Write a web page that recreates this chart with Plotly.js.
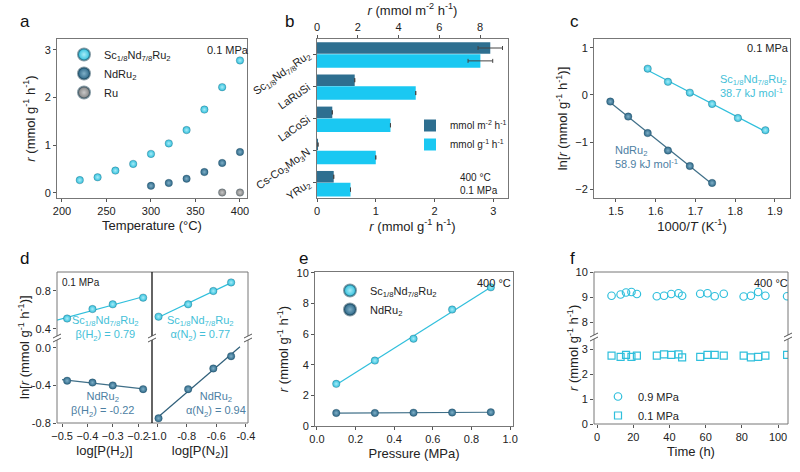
<!DOCTYPE html>
<html><head><meta charset="utf-8">
<script src="https://cdn.plot.ly/plotly-3.0.1.min.js"></script>
<style>html,body{margin:0;padding:0;background:#fff}</style>
</head><body><div id="g" style="width:800px;height:472px"></div>
<script>
// ---- data ----
const SC = 'Sc<sub>1/8</sub>Nd<sub>7/8</sub>Ru<sub>2</sub>';
const ND = 'NdRu<sub>2</sub>';
// a
const aTempSc = [220,240,260,280,300,320,340,360,380,400];
const aRateSc = [0.27,0.33,0.47,0.61,0.82,1.04,1.32,1.75,2.22,2.78];
const aTempNd = [300,320,340,360,380,400];
const aRateNd = [0.15,0.21,0.30,0.44,0.63,0.86];
const aTempRu = [380,400];
const aRateRu = [0.01,0.01];
// b
const bCats = [SC,'LaRuSi','LaCoSi','Cs-Co<sub>3</sub>Mo<sub>3</sub>N','YRu<sub>2</sub>'];
const bArea = [8.5,1.85,0.75,0.05,0.82];
const bAreaErr = [0.6,null,null,null,null];
const bMass = [2.78,1.68,1.25,1.0,0.57];
const bMassErr = [0.21,null,null,null,null];
// c
const cXSc = [1.580,1.631,1.686,1.742,1.807,1.876];
const cYSc = [0.56,0.28,0.05,-0.19,-0.49,-0.75];
const cXNd = [1.486,1.531,1.580,1.631,1.686,1.742];
const cYNd = [-0.14,-0.46,-0.81,-1.18,-1.51,-1.87];
// d
const dH2 = [-0.48,-0.38,-0.30,-0.18];
const dH2Sc = [0.51,0.61,0.66,0.73];
const dH2Nd = [-0.35,-0.37,-0.40,-0.44];
const dN2 = [-0.99,-0.79,-0.62,-0.50];
const dN2Sc = [0.53,0.66,0.80,0.89];
const dN2Nd = [-0.75,-0.44,-0.22,-0.09];
// e
const ePress = [0.1,0.3,0.5,0.7,0.9];
const eSc = [2.75,4.27,5.7,7.6,9.05];
const eNd = [0.85,0.85,0.87,0.88,0.9];
// f
const fTime = [8,13,16,19,22,33,37,41,45,47,57,61,65,70,81,85,89,93,105];
const f09 = [9.05,9.1,9.18,9.2,9.12,9.03,9.05,9.12,9.15,9.05,9.13,9.15,9.03,9.13,9.02,9.05,9.2,9.05,9.03];
const f01 = [2.75,2.7,2.78,2.7,2.75,2.75,2.8,2.78,2.8,2.68,2.7,2.78,2.78,2.75,2.75,2.68,2.7,2.75,2.78];

// ---- style ----
const CL = '#2fbfdc', CD = '#2c6686', CG = '#808080';
const TL = '#45bfd8', TD = '#4d80a3';
const FONT = 'Liberation Sans, Arial, sans-serif';
const P = (px)=>px/800, Q = (py)=>1-py/472;

function fit(xs, ys, x0, x1){
  const n=xs.length; let sx=0,sy=0,sxx=0,sxy=0;
  for(let i=0;i<n;i++){sx+=xs[i];sy+=ys[i];sxx+=xs[i]*xs[i];sxy+=xs[i]*ys[i];}
  const b=(n*sxy-sx*sy)/(n*sxx-sx*sx), a=(sy-b*sx)/n;
  return {x:[x0,x1], y:[a+b*x0,a+b*x1]};
}
const GL = {'#2fbfdc':'#a8ecf8','#2c6686':'#7fb0c8','#808080':'#c8c8c8'};
function sph(c){ return {color:c, size:7.5, line:{color:'rgba(20,60,80,0.5)',width:0.5}, gradient:{type:'radial',color:GL[c]}}; }
function pts(x,y,xa,ya,c,name,leg,show){
  return {type:'scatter',mode:'markers',x:x,y:y,xaxis:xa,yaxis:ya,marker:sph(c),name:name,legend:leg||'legend',showlegend:!!show};
}
function ln(f,xa,ya,c){ return {type:'scatter',mode:'lines',x:f.x,y:f.y,xaxis:xa,yaxis:ya,line:{color:c,width:1.2},showlegend:false,hoverinfo:'skip'}; }

const traces = [];
// a
traces.push(pts(aTempSc,aRateSc,'x','y',CL,SC,'legend',true));
traces.push(pts(aTempNd,aRateNd,'x','y',CD,ND,'legend',true));
traces.push(pts(aTempRu,aRateRu,'x','y',CG,'Ru','legend',true));
// b
traces.push({type:'bar',orientation:'h',y:bCats,x:bArea,xaxis:'x3',yaxis:'y2',offset:-0.37,width:0.36,
  marker:{color:'#2e6f90'},name:'mmol m<sup>-2</sup> h<sup>-1</sup>',legend:'legend2',
  error_x:{type:'data',array:bAreaErr,color:'#444',thickness:1,width:2}});
traces.push({type:'bar',orientation:'h',y:bCats,x:bMass,xaxis:'x2',yaxis:'y2',offset:0.0,width:0.42,
  marker:{color:'#1ac8f2'},name:'mmol g<sup>-1</sup> h<sup>-1</sup>',legend:'legend2',
  error_x:{type:'data',array:bMassErr,color:'#444',thickness:1,width:2}});
// c
traces.push(ln(fit(cXSc,cYSc,1.58,1.876),'x4','y4',CL));
traces.push(ln(fit(cXNd,cYNd,1.486,1.742),'x4','y4','#3f6f88'));
traces.push(pts(cXSc,cYSc,'x4','y4',CL));
traces.push(pts(cXNd,cYNd,'x4','y4',CD));
// d
traces.push(ln(fit(dH2,dH2Sc,-0.52,-0.18),'x5','y5',CL));
traces.push(pts(dH2,dH2Sc,'x5','y5',CL));
traces.push(ln(fit(dH2,dH2Nd,-0.5,-0.18),'x6','y6','#3f6f88'));
traces.push(pts(dH2,dH2Nd,'x6','y6',CD));
traces.push(ln(fit(dN2,dN2Sc,-1.0,-0.48),'x7','y7',CL));
traces.push(pts(dN2,dN2Sc,'x7','y7',CL));
traces.push(ln(fit(dN2,dN2Nd,-1.0,-0.44),'x8','y8','#2f5f7a'));
traces.push(pts(dN2,dN2Nd,'x8','y8',CD));
// e
traces.push(ln(fit(ePress,eSc,0.1,0.9),'x9','y9',CL));
traces.push(ln(fit(ePress,eNd,0.1,0.9),'x9','y9','#3f6f88'));
traces.push(pts(ePress,eSc,'x9','y9',CL,SC,'legend3',true));
traces.push(pts(ePress,eNd,'x9','y9',CD,ND,'legend3',true));
// f
traces.push({type:'scatter',mode:'markers',x:fTime,y:f09,xaxis:'x10',yaxis:'y10',name:'0.9 MPa',legend:'legend4',
  marker:{symbol:'circle-open',size:7.5,color:CL,line:{width:1.2}}});
traces.push({type:'scatter',mode:'markers',x:fTime,y:f01,xaxis:'x11',yaxis:'y11',name:'0.1 MPa',legend:'legend4',
  marker:{symbol:'square-open',size:7,color:CL,line:{width:1.2}}});

const tf = {family:FONT,size:11,color:'#222'};
const ttf = {family:FONT,size:13,color:'#222'};
function ax(dom, rng, extra){
  return Object.assign({domain:dom, range:rng, showgrid:false, zeroline:false, showline:true, mirror:true,
    linecolor:'#777', linewidth:1, ticks:'outside', ticklen:3, tickcolor:'#555', tickfont:tf, title:{font:ttf}}, extra||{});
}
const ya = [Q(198),Q(39)];
const dUp=[Q(338),Q(272)], dLo=[Q(423),Q(338)];
const fUp=[Q(337),Q(272)], fLo=[Q(424),Q(337)];
const rTitle = '<i>r</i> (mmol g<sup>-1</sup> h<sup>-1</sup>)';
const noLine = {showline:false, mirror:false};

const layout = {
  width:800,height:472,margin:{l:0,r:0,t:0,b:0},paper_bgcolor:'#fff',plot_bgcolor:'rgba(0,0,0,0)',
  font:{family:FONT,color:'#222'}, showlegend:true, hovermode:false,
  // a
  xaxis: ax([P(57),P(247)],[194.4,407.9],{anchor:'y',tickvals:[200,250,300,350,400],title:{text:'Temperature (°C)',font:ttf,standoff:4}}),
  yaxis: ax(ya,[-0.105,3.23],{anchor:'x',tickvals:[0,1,2,3],title:{text:rTitle,font:ttf,standoff:6}}),
  // b
  xaxis2: ax([P(317),P(508)],[0,3.25],{anchor:'y2',tickvals:[0,1,2,3],title:{text:rTitle,font:ttf,standoff:4}}),
  xaxis3: ax([P(317),P(508)],[0,9.37],{anchor:'y2',overlaying:'x2',side:'top',tickvals:[0,2,4,6,8],
    title:{text:'<i>r</i> (mmol m<sup>-2</sup> h<sup>-1</sup>)',font:ttf,standoff:2}}),
  yaxis2: ax(ya,[4.47,-0.47],{anchor:'x2',type:'category',tickangle:-35,ticklabelstandoff:3,tickfont:{family:FONT,size:11,color:'#222'}}),
  // c
  xaxis4: ax([P(594),P(790)],[1.445,1.938],{anchor:'y4',tickvals:[1.5,1.6,1.7,1.8,1.9],title:{text:'1000/<i>T</i> (K<sup>-1</sup>)',font:ttf,standoff:4}}),
  yaxis4: ax(ya,[-2.19,1.19],{anchor:'x4',tickvals:[-2,-1,0,1],title:{text:'ln[<i>r</i> (mmol g<sup>-1</sup> h<sup>-1</sup>)]',font:ttf,standoff:4}}),
  // d
  xaxis5: ax([P(57),P(152)],[-0.52,-0.145],Object.assign({anchor:'y5',showticklabels:false,ticks:''},noLine)),
  yaxis5: ax(dUp,[0.305,1.0],Object.assign({anchor:'x5',tickvals:[0.4,0.8],ticktext:['0.4','0.8']},noLine)),
  xaxis6: ax([P(57),P(152)],[-0.52,-0.145],Object.assign({anchor:'y6',tickvals:[-0.5,-0.4,-0.3,-0.2],title:{text:'log[P(H<sub>2</sub>)]',font:ttf,standoff:4}},noLine)),
  yaxis6: ax(dLo,[-0.8,0.104],Object.assign({anchor:'x6',tickvals:[-0.8,-0.4,0],ticktext:['-0.8','-0.4','0.0']},noLine)),
  xaxis7: ax([P(152),P(248)],[-1.034,-0.386],Object.assign({anchor:'y7',showticklabels:false,ticks:''},noLine)),
  yaxis7: ax(dUp,[0.305,1.0],Object.assign({anchor:'x7',showticklabels:false,ticks:''},noLine)),
  xaxis8: ax([P(152),P(248)],[-1.034,-0.386],Object.assign({anchor:'y8',tickvals:[-1.0,-0.8,-0.6,-0.4],ticktext:['-1.0','-0.8','-0.6','-0.4'],title:{text:'log[P(N<sub>2</sub>)]',font:ttf,standoff:4}},noLine)),
  yaxis8: ax(dLo,[-0.8,0.104],Object.assign({anchor:'x8',showticklabels:false,ticks:''},noLine)),
  // e
  xaxis9: ax([P(315),P(513)],[-0.01,1.015],{anchor:'y9',tickvals:[0,0.2,0.4,0.6,0.8,1.0],ticktext:['0.0','0.2','0.4','0.6','0.8','1.0'],title:{text:'Pressure (MPa)',font:ttf,standoff:4}}),
  yaxis9: ax([Q(426),Q(272)],[0,10.05],{anchor:'x9',tickvals:[0,2,4,6,8,10],title:{text:rTitle,font:ttf,standoff:4}}),
  // f
  xaxis10: ax([P(594),P(788)],[-1.7,105.5],Object.assign({anchor:'y10',showticklabels:false,ticks:''},noLine)),
  yaxis10: ax(fUp,[7.4,10],Object.assign({anchor:'x10',tickvals:[8,9,10]},noLine)),
  xaxis11: ax([P(594),P(788)],[-1.7,105.5],Object.assign({anchor:'y11',tickvals:[0,20,40,60,80,100],title:{text:'Time (h)',font:ttf,standoff:4}},noLine)),
  yaxis11: ax(fLo,[0,3.5],Object.assign({anchor:'x11',tickvals:[0,1,2,3]},noLine)),
  legend:{x:P(64),y:Q(40),xanchor:'left',yanchor:'top',bgcolor:'rgba(0,0,0,0)',font:{family:FONT,size:11},itemsizing:'constant',tracegroupgap:0},
  legend2:{x:P(410),y:Q(111),xanchor:'left',yanchor:'top',bgcolor:'rgba(0,0,0,0)',font:{family:FONT,size:10}},
  legend3:{x:P(330),y:Q(276),xanchor:'left',yanchor:'top',bgcolor:'rgba(0,0,0,0)',font:{family:FONT,size:11},itemsizing:'constant'},
  legend4:{x:P(598),y:Q(382),xanchor:'left',yanchor:'top',bgcolor:'rgba(0,0,0,0)',font:{family:FONT,size:11}},
  shapes:[
    {type:'rect',xref:'paper',yref:'paper',x0:P(57),x1:P(248),y0:Q(423),y1:Q(272),line:{color:'#777',width:1}},
    {type:'line',xref:'paper',yref:'paper',x0:P(152),x1:P(152),y0:Q(423),y1:Q(272),line:{color:'#111',width:1.3}},
    {type:'rect',xref:'paper',yref:'paper',x0:P(594),x1:P(788),y0:Q(424),y1:Q(272),line:{color:'#777',width:1}},
  ],
  annotations:[]
};
// break marks
[[57,338],[152,338],[248,338],[594,337],[788,337]].forEach(([x,y])=>{
  layout.shapes.push({type:'rect',xref:'paper',yref:'paper',x0:P(x-4),x1:P(x+4),y0:Q(y+2),y1:Q(y-2),fillcolor:'#fff',line:{width:0}});
  layout.shapes.push({type:'line',xref:'paper',yref:'paper',x0:P(x-4),x1:P(x+4),y0:Q(y),y1:Q(y-4),line:{color:'#555',width:1}});
  layout.shapes.push({type:'line',xref:'paper',yref:'paper',x0:P(x-4),x1:P(x+4),y0:Q(y+4),y1:Q(y),line:{color:'#555',width:1}});
});
function ann(text,x,y,o){ layout.annotations.push(Object.assign({text:text,xref:'paper',yref:'paper',x:P(x),y:Q(y),showarrow:false,xanchor:'left',yanchor:'middle',font:{family:FONT,size:11,color:'#222'}},o||{})); }
// panel letters
[['a',18,22],['b',283,22],['c',568,22],['d',18,258],['e',297,258],['f',568,258]].forEach(([t,x,y])=>ann(t,x,y,{font:{family:FONT,size:17,color:'#111'}}));
ann('0.1 MPa',205,50);
ann('400 °C<br>0.1 MPa',458,184,{align:'left',font:{family:FONT,size:10,color:'#222'}});
ann('0.1 MPa',745,48);
ann(SC+'<br>38.7 kJ mol<sup>-1</sup>',718,86,{align:'left',font:{family:FONT,size:11,color:TL}});
ann(ND+'<br>58.9 kJ mol<sup>-1</sup>',613,157,{align:'left',font:{family:FONT,size:11,color:TD}});
ann('0.1 MPa',60,282,{font:{family:FONT,size:10,color:'#222'}});
ann(SC+'<br>β(H<sub>2</sub>) = 0.79',105,328,{xanchor:'center',align:'center',font:{family:FONT,size:11,color:TL}});
ann(SC+'<br>α(N<sub>2</sub>) = 0.77',200,328,{xanchor:'center',align:'center',font:{family:FONT,size:11,color:TL}});
ann(ND+'<br>β(H<sub>2</sub>) = -0.22',103,404,{xanchor:'center',align:'center',font:{family:FONT,size:11,color:TD}});
ann(ND+'<br>α(N<sub>2</sub>) = 0.94',216,404,{xanchor:'center',align:'center',font:{family:FONT,size:11,color:TD}});
ann('400 °C',475,283);
ann('400 °C',752,283);
// broken-axis y titles
ann('ln[<i>r</i> (mmol g<sup>-1</sup> h<sup>-1</sup>)]',24,347,{xanchor:'center',textangle:-90,font:ttf});
ann(rTitle,573,348,{xanchor:'center',textangle:-90,font:ttf});

Plotly.newPlot('g',traces,layout,{staticPlot:true});
</script></body></html>
